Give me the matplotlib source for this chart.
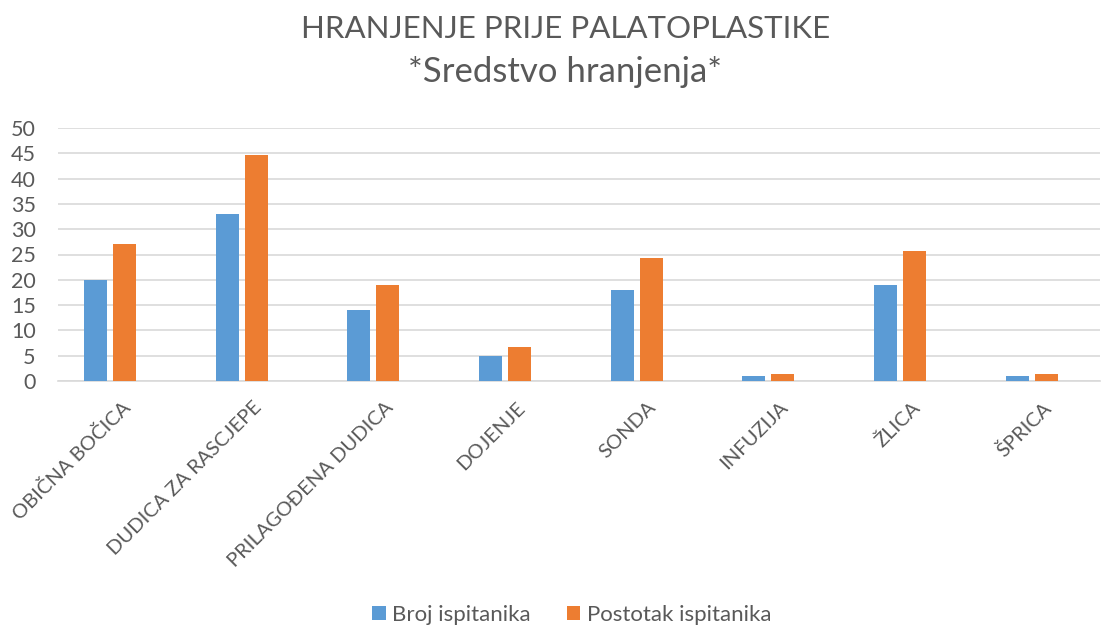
import numpy as np
import matplotlib.pyplot as plt
import matplotlib.transforms as mtransforms

plt.rcParams['font.family'] = ['Lato', 'DejaVu Sans']

categories = ['OBIČNA BOČICA', 'DUDICA ZA RASCJEPE', 'PRILAGOĐENA DUDICA', 'DOJENJE',
              'SONDA', 'INFUZIJA', 'ŽLICA', 'ŠPRICA']
broj = [20, 33, 14, 5, 18, 1, 19, 1]
postotak = [27.03, 44.59, 18.92, 6.76, 24.32, 1.35, 25.68, 1.35]

blue = '#5b9bd5'
orange = '#ed7d31'
grey = '#595959'

fig = plt.figure(figsize=(11.06, 6.28), dpi=100)
ax = fig.add_axes([58 / 1106, 1 - 381 / 628, (1100 - 58) / 1106, (381 - 128) / 628])

x = np.arange(len(categories))
w = 0.175
ax.bar(x - 0.11, broj, w, color=blue, label='Broj ispitanika', zorder=3)
ax.bar(x + 0.11, postotak, w, color=orange, label='Postotak ispitanika', zorder=3)

ax.set_ylim(0, 50)
ax.set_xlim(-0.395, 7.52)
ax.set_yticks(range(0, 51, 5))
ax.yaxis.grid(True, color='#d9d9d9', linewidth=1.2, zorder=0)
ax.set_axisbelow(True)
for s in ['top', 'right', 'left']:
    ax.spines[s].set_visible(False)
ax.spines['bottom'].set_color('#d9d9d9')
ax.spines['bottom'].set_linewidth(1.2)
ax.tick_params(length=0, colors=grey)
ax.tick_params(axis='y', labelsize=15.5, pad=16)
ax.tick_params(axis='x', labelsize=14.5, pad=2)
ax.set_xticks(x)
ax.set_xticklabels(categories, rotation=45, ha='right', va='top', rotation_mode='anchor')
offset = mtransforms.ScaledTranslation(11 / 100, -15 / 100, fig.dpi_scale_trans)
for lab in ax.get_xticklabels():
    lab.set_transform(lab.get_transform() + offset)

fig.text(0.511, 0.954, 'HRANJENJE PRIJE PALATOPLASTIKE', ha='center', va='center',
         fontsize=22.5, color=grey)
fig.text(0.511, 0.885, '*Sredstvo hranjenja*', ha='center', va='center',
         fontsize=25, color=grey)

ax.legend(loc='center', bbox_to_anchor=(0.5 * 1106 / 1042 - 58 / 1042 + 0.018, -0.925),
          ncol=2, frameon=False, fontsize=16, labelcolor=grey, handlelength=0.6,
          handleheight=0.6, columnspacing=1.6, handletextpad=0.3)

fig.savefig('out.png')
